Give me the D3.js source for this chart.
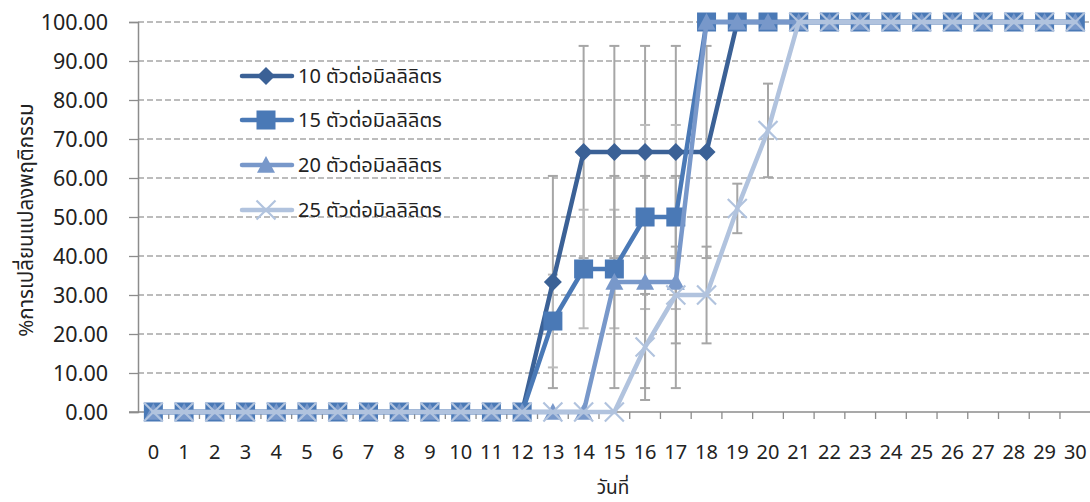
<!DOCTYPE html>
<html>
<head>
<meta charset="utf-8">
<script src="https://cdn.jsdelivr.net/npm/d3@7"></script>
<style>
  html, body { margin: 0; padding: 0; background: #fff; }
  svg text { font-family: "Noto Sans Thai", "Tahoma", "Leelawadee UI", "DejaVu Sans", sans-serif; fill: #222; }
</style>
</head>
<body>
<svg id="chart" width="1090" height="502"></svg>
<script>
// Days of observation
const days = [0,1,2,3,4,5,6,7,8,9,10,11,12,13,14,15,16,17,18,19,20,21,22,23,24,25,26,27,28,29,30];

// % behaviour change per density (mean)
const s10 = [0,0,0,0,0,0,0,0,0,0,0,0,0,33.33,66.67,66.67,66.67,66.67,66.67,100,100,100,100,100,100,100,100,100,100,100,100];
const s15 = [0,0,0,0,0,0,0,0,0,0,0,0,0,23.33,36.67,36.67,50,50,100,100,100,100,100,100,100,100,100,100,100,100,100];
const s20 = [0,0,0,0,0,0,0,0,0,0,0,0,0,0,0,33.33,33.33,33.33,100,100,100,100,100,100,100,100,100,100,100,100,100];
const s25 = [0,0,0,0,0,0,0,0,0,0,0,0,0,0,0,0,16.67,30,30,52.2,72.2,100,100,100,100,100,100,100,100,100,100];

// error bar half-lengths
const e10 = [0,0,0,0,0,0,0,0,0,0,0,0,0,27.2,27.2,27.2,27.2,27.2,27.2,0,0,0,0,0,0,0,0,0,0,0,0];
const e15 = [0,0,0,0,0,0,0,0,0,0,0,0,0,11.9,15.2,15.2,23.6,23.6,0,0,0,0,0,0,0,0,0,0,0,0,0];
const e20 = [0,0,0,0,0,0,0,0,0,0,0,0,0,0,0,27.2,27.2,27.2,0,0,0,0,0,0,0,0,0,0,0,0,0];
const e25 = [0,0,0,0,0,0,0,0,0,0,0,0,0,0,0,0,13.6,12.4,12.4,6.35,12,0,0,0,0,0,0,0,0,0,0];

const seriesNames = ["10 ตัวต่อมิลลิลิตร","15 ตัวต่อมิลลิลิตร","20 ตัวต่อมิลลิลิตร","25 ตัวต่อมิลลิลิตร"];
const yTicks = [0,10,20,30,40,50,60,70,80,90,100];
const xTitle = "วันที่";
const yTitle = "%การเปลี่ยนแปลงพฤติกรรม";

const series = [
  { name: seriesNames[0], values: s10, err: e10, color: "#3b6196", errColor: "#a6a6a6", marker: "diamond" },
  { name: seriesNames[1], values: s15, err: e15, color: "#4a79b6", errColor: "#bcbcbc", marker: "square" },
  { name: seriesNames[2], values: s20, err: e20, color: "#7898ca", errColor: "#a6a6a6", marker: "triangle" },
  { name: seriesNames[3], values: s25, err: e25, color: "#b1c3de", errColor: "#a6a6a6", marker: "cross" }
];

const numFont = "'Noto Sans', 'Open Sans', 'DejaVu Sans', sans-serif";
const svg = d3.select("#chart");
const plotLeft = 138, plotRight = 1090.7, plotTop = 22, plotBottom = 412;

const x = d3.scaleBand().domain(days).range([plotLeft, plotRight]);
const xc = d => x(d) + x.bandwidth() / 2;
const y = d3.scaleLinear().domain([0, 100]).range([plotBottom, plotTop]);

// dashed horizontal gridlines
svg.append("g")
  .selectAll("line")
  .data(yTicks.filter(t => t > 0))
  .join("line")
  .attr("x1", plotLeft).attr("x2", 1090)
  .attr("y1", d => y(d)).attr("y2", d => y(d))
  .attr("stroke", "#a6a6a6").attr("stroke-width", 1.3)
  .attr("stroke-dasharray", "6,3");

// y axis
const yAxis = svg.append("g")
  .attr("transform", `translate(${plotLeft},0)`)
  .call(d3.axisLeft(y).tickValues(yTicks).tickFormat(d3.format(".2f")).tickSize(9).tickPadding(21));
yAxis.select(".domain").attr("stroke", "#8c8c8c").attr("stroke-width", 1.5);
yAxis.selectAll(".tick line").attr("stroke", "#8c8c8c").attr("stroke-width", 1.3);
yAxis.selectAll(".tick text").attr("font-size", 21.5).attr("fill", "#2a2a2a")
  .style("font-family", numFont).attr("dy", "0.36em");

// x axis: ticks at the boundaries between days
const xAxis = svg.append("g").attr("transform", `translate(0,${plotBottom})`);
xAxis.append("line").attr("x1", plotLeft - 9).attr("x2", 1090).attr("y1", 0).attr("y2", 0)
  .attr("stroke", "#8c8c8c").attr("stroke-width", 1.5);
xAxis.selectAll("line.tk")
  .data(days.slice(1))
  .join("line").attr("class", "tk")
  .attr("x1", d => x(d)).attr("x2", d => x(d))
  .attr("y1", 0).attr("y2", 7)
  .attr("stroke", "#8c8c8c").attr("stroke-width", 1.3);
xAxis.selectAll("text")
  .data(days)
  .join("text")
  .attr("x", d => xc(d)).attr("y", 47)
  .attr("text-anchor", "middle").attr("font-size", 20)
  .attr("fill", "#2a2a2a")
  .style("font-family", numFont)
  .text(d => d);

// axis titles
svg.append("text").attr("x", 613).attr("y", 494).attr("text-anchor", "middle")
  .attr("font-size", 19).text(xTitle);
svg.append("text").attr("transform", "translate(33,220) rotate(-90)")
  .attr("text-anchor", "middle").attr("font-size", 20.5).text(yTitle);

// error bars
const errG = svg.append("g");
series.forEach(s => {
  const pts = days.map((d, i) => ({ d, v: s.values[i], e: s.err[i] })).filter(p => p.e > 0);
  const g = errG.append("g").attr("stroke", s.errColor).attr("stroke-width", 2);
  pts.forEach(p => {
    const cx = xc(p.d), y1 = y(p.v + p.e), y2 = y(p.v - p.e);
    g.append("line").attr("x1", cx).attr("x2", cx).attr("y1", y1).attr("y2", y2);
    g.append("line").attr("x1", cx - 5).attr("x2", cx + 5).attr("y1", y1).attr("y2", y1);
    g.append("line").attr("x1", cx - 5).attr("x2", cx + 5).attr("y1", y2).attr("y2", y2);
  });
});

// marker drawing
function drawMarker(g, type, cx, cy, color) {
  if (type === "diamond") {
    const r = 9;
    g.append("path").attr("d", `M${cx},${cy - r}L${cx + r},${cy}L${cx},${cy + r}L${cx - r},${cy}Z`).attr("fill", color);
  } else if (type === "square") {
    const r = 9.5;
    g.append("rect").attr("x", cx - r).attr("y", cy - r).attr("width", 2 * r).attr("height", 2 * r).attr("fill", color);
  } else if (type === "triangle") {
    const r = 9;
    g.append("path").attr("d", `M${cx},${cy - r}L${cx + r},${cy + r * 0.85}L${cx - r},${cy + r * 0.85}Z`).attr("fill", color);
  } else {
    const r = 9.5;
    g.append("path").attr("d", `M${cx - r},${cy - r}L${cx + r},${cy + r}M${cx + r},${cy - r}L${cx - r},${cy + r}`)
      .attr("stroke", color).attr("stroke-width", 2.2).attr("fill", "none");
  }
}

// series lines and markers
const line = d3.line().x(p => xc(p.d)).y(p => y(p.v));
series.forEach(s => {
  const pts = days.map((d, i) => ({ d, v: s.values[i] }));
  const g = svg.append("g");
  g.append("path").datum(pts).attr("d", line)
    .attr("fill", "none").attr("stroke", s.color).attr("stroke-width", 4.5)
    .attr("stroke-linejoin", "round").attr("stroke-linecap", "round");
  pts.forEach(p => drawMarker(g, s.marker, xc(p.d), y(p.v), s.color));
});

// legend
const legendY = [76, 120, 165, 210];
const lg = svg.append("g");
series.forEach((s, i) => {
  const ly = legendY[i];
  lg.append("line").attr("x1", 242).attr("x2", 292).attr("y1", ly).attr("y2", ly)
    .attr("stroke", s.color).attr("stroke-width", 4.5).attr("stroke-linecap", "round");
  drawMarker(lg, s.marker, 266, ly, s.color);
  lg.append("text").attr("x", 298).attr("y", ly + 7).attr("font-size", 20).text(s.name);
});
</script>
</body>
</html>
